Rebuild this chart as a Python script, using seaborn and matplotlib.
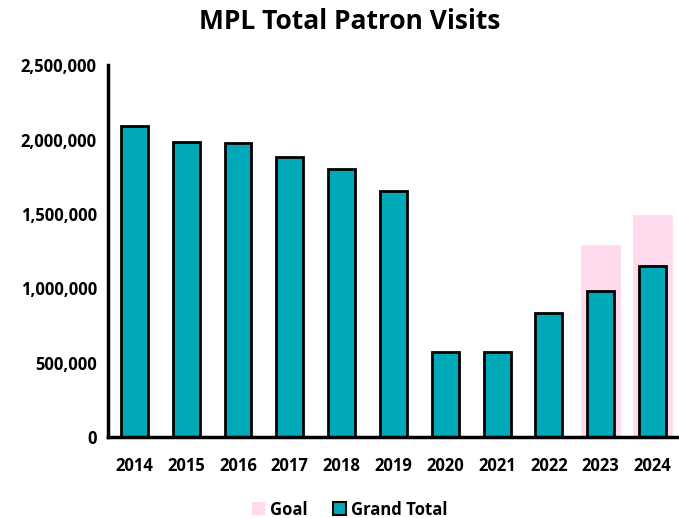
import matplotlib
matplotlib.use('Agg')
import matplotlib.pyplot as plt
import seaborn as sns
from matplotlib.ticker import FuncFormatter
from matplotlib.patches import Patch

# data
years = ['2014', '2015', '2016', '2017', '2018', '2019', '2020', '2021', '2022', '2023', '2024']
grand_total = [2095000, 1983000, 1978000, 1884000, 1806000, 1658000, 576000, 571000, 838000, 986000, 1154000]
goal_years = ['2023', '2024']
goal = [1300000, 1500000]

teal = '#00A9B8'
pink = '#FFD9EC'

sns.set_style('white')
plt.rcParams['font.family'] = ['Open Sans', 'DejaVu Sans']
plt.rcParams['font.weight'] = 'bold'
plt.rcParams['text.color'] = 'black'
plt.rcParams['xtick.color'] = 'black'
plt.rcParams['ytick.color'] = 'black'

fig = plt.figure(figsize=(6.79, 5.18), dpi=100)
ax = fig.add_axes([0.159, 0.156, 0.841, 0.718])

sns.barplot(x=goal_years, y=goal, order=years, color=pink, width=0.8,
            saturation=1, ax=ax)
sns.barplot(x=years, y=grand_total, order=years, color=teal, width=0.52,
            saturation=1, edgecolor='black', linewidth=2, ax=ax)

ax.set_ylim(0, 2500000)
ax.set_xlim(-0.51, 10.51)
ax.set_yticks(range(0, 2500001, 500000))
ax.yaxis.set_major_formatter(FuncFormatter(lambda v, p: f'{int(v):,}'))
ax.tick_params(axis='y', length=0, labelsize=12, pad=8)
ax.tick_params(axis='x', length=0, labelsize=12, pad=14)
for lbl in ax.get_xticklabels() + ax.get_yticklabels():
    lbl.set_fontweight('bold')

sns.despine(ax=ax)
ax.spines['left'].set_linewidth(2.5)
ax.spines['bottom'].set_linewidth(2.5)
ax.spines['left'].set_color('black')
ax.spines['bottom'].set_color('black')
ax.set_xlabel('')
ax.set_ylabel('')

fig.suptitle('MPL Total Patron Visits', x=0.515, fontsize=19, fontweight='bold', y=0.985)

handles = [Patch(facecolor=pink, edgecolor='none', label='Goal'),
           Patch(facecolor=teal, edgecolor='black', linewidth=1.5, label='Grand Total')]
fig.legend(handles=handles, loc='lower center', bbox_to_anchor=(0.515, -0.03), ncol=2,
           frameon=False, handlelength=0.8, handleheight=0.8,
           handletextpad=0.3, columnspacing=1.5, prop={'weight': 'bold', 'size': 12})

fig.savefig('out.png', dpi=100)
